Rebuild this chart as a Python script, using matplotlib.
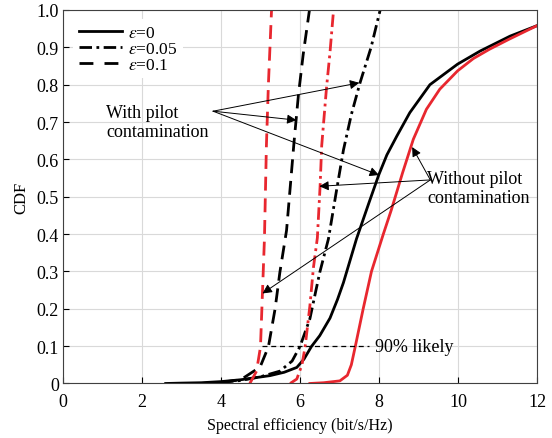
import numpy as np
import matplotlib
matplotlib.use("Agg")
import matplotlib.pyplot as plt
from matplotlib.lines import Line2D

plt.rcParams["font.family"] = ["Liberation Serif", "DejaVu Serif"]
plt.rcParams["mathtext.fontset"] = "stix"

# ε=0 (solid) : with / without pilot contamination
x_e0_pc = [2.6, 3.0, 3.5, 4.0, 4.5, 5.24, 5.6, 5.92, 6.1, 6.29, 6.5, 6.76, 6.95, 7.1, 7.43, 7.75, 8.0, 8.2, 8.45, 8.78, 9.29, 9.99, 10.56, 11.32, 12.0]
y_e0_pc = [0, 0.001, 0.002, 0.005, 0.01, 0.021, 0.03, 0.043, 0.065, 0.099, 0.128, 0.175, 0.225, 0.27, 0.387, 0.485, 0.56, 0.612, 0.662, 0.725, 0.80, 0.855, 0.89, 0.93, 0.958]
x_e0_np = [6.25, 6.6, 7.01, 7.2, 7.3, 7.4, 7.6, 7.81, 8.11, 8.31, 8.6, 8.87, 9.2, 9.54, 9.99, 10.39, 10.8, 11.3, 12.0]
y_e0_np = [0, 0.002, 0.007, 0.022, 0.05, 0.099, 0.2, 0.30, 0.40, 0.464, 0.565, 0.654, 0.734, 0.788, 0.837, 0.87, 0.895, 0.922, 0.958]
# ε=0.05 (dash-dot)
x_e05_pc = [4.0, 4.5, 5.0, 5.49, 5.8, 6.0, 6.25, 6.5, 6.72, 6.93, 7.1, 7.3, 7.52, 7.8, 8.03]
y_e05_pc = [0.003, 0.008, 0.018, 0.033, 0.06, 0.099, 0.173, 0.297, 0.387, 0.52, 0.625, 0.72, 0.805, 0.90, 1.0]
x_e05_np = [5.75, 5.92, 6.05, 6.13, 6.25, 6.34, 6.44, 6.51, 6.55, 6.67, 6.76, 6.85]
y_e05_np = [0, 0.012, 0.05, 0.098, 0.207, 0.31, 0.39, 0.53, 0.637, 0.79, 0.887, 1.0]
# ε=0.1 (dashed)
x_e1_pc = [3.5, 4.0, 4.5, 4.99, 5.2, 5.37, 5.49, 5.66, 5.85, 5.96, 6.08, 6.24]
y_e1_pc = [0.0, 0.003, 0.01, 0.044, 0.098, 0.2, 0.297, 0.41, 0.647, 0.772, 0.88, 1.0]
x_e1_np = [4.73, 4.9, 5.0, 5.05, 5.1, 5.15, 5.2, 5.28]
y_e1_np = [0, 0.033, 0.098, 0.243, 0.387, 0.637, 0.8, 1.0]

RED = "#e8272f"
dash = (0, (5, 2.8))
dashdot = (0, (4.5, 1.6, 1.0, 1.6))

fig = plt.figure(figsize=(5.52, 4.39), dpi=100)
ax = fig.add_axes([0.1141, 0.1242, 0.8587, 0.8508])

ax.plot(x_e0_pc, y_e0_pc, color="k", lw=2.0, ls="-")
ax.plot(x_e0_np, y_e0_np, color=RED, lw=2.0, ls="-")
ax.plot(x_e05_pc, y_e05_pc, color="k", lw=2.0, ls=dashdot)
ax.plot(x_e05_np, y_e05_np, color=RED, lw=2.0, ls=dashdot)
ax.plot(x_e1_pc, y_e1_pc, color="k", lw=2.0, ls=dash)
ax.plot(x_e1_np, y_e1_np, color=RED, lw=2.0, ls=dash)

# 90% likely
ax.plot([5.03, 7.75], [0.1, 0.1], color="k", lw=0.9, ls=(0, (4, 3)))
ax.text(7.9, 0.1, "90% likely", fontsize=13, va="center", ha="left")

ax.set_xlim(0, 12)
ax.set_ylim(0, 1)
ax.set_xticks(np.arange(0, 13, 2))
ax.set_yticks(np.arange(0, 1.01, 0.1))
ax.set_yticklabels(["0"] + [f"{v:.1f}" for v in np.arange(0.1, 0.95, 0.1)] + ["1.0"])
ax.tick_params(direction="in", labelsize=13, length=4, top=False, right=False)
ax.tick_params(axis="x", pad=7)
ax.tick_params(axis="y", pad=3)
ax.grid(True, color="#d9d9d9", lw=0.8)
ax.set_axisbelow(True)
for s in ax.spines.values():
    s.set_color("#404040")
    s.set_linewidth(0.8)
ax.set_xlabel("Spectral efficiency (bit/s/Hz)", fontsize=11.5, labelpad=5)
ax.set_ylabel("CDF", fontsize=12, labelpad=5)

handles = [Line2D([], [], color="k", lw=2.0, ls="-"),
           Line2D([], [], color="k", lw=2.0, ls=dashdot),
           Line2D([], [], color="k", lw=2.0, ls=(0, (5, 4)))]
labels = [r"$\varepsilon$=0", r"$\varepsilon$=0.05", r"$\varepsilon$=0.1"]
leg = ax.legend(handles, labels, loc="upper left", bbox_to_anchor=(0.022, 0.975),
                fontsize=12.5, frameon=True, framealpha=1, edgecolor="none",
                fancybox=False, handlelength=2.5, handletextpad=0.35,
                labelspacing=0.0, borderaxespad=0.0, borderpad=0.3)

# annotations
ap = dict(arrowstyle="-|>", color="k", lw=0.7, mutation_scale=14, shrinkA=0, shrinkB=0)
ax.text(1.1, 0.70, "With pilot\ncontamination", fontsize=13, va="center", ha="left",
        linespacing=1.2)
for tx, ty in [(7.5, 0.805), (5.91, 0.705), (8.0, 0.558)]:
    ax.annotate("", xy=(tx, ty), xytext=(3.8, 0.729), arrowprops=ap)

ax.text(9.22, 0.523, "Without pilot\ncontamination", fontsize=13, va="center", ha="left",
        linespacing=1.2)
for tx, ty in [(8.84, 0.633), (6.49, 0.528), (5.05, 0.241)]:
    ax.annotate("", xy=(tx, ty), xytext=(9.3, 0.545), arrowprops=ap)

fig.savefig("out.png", dpi=100)
